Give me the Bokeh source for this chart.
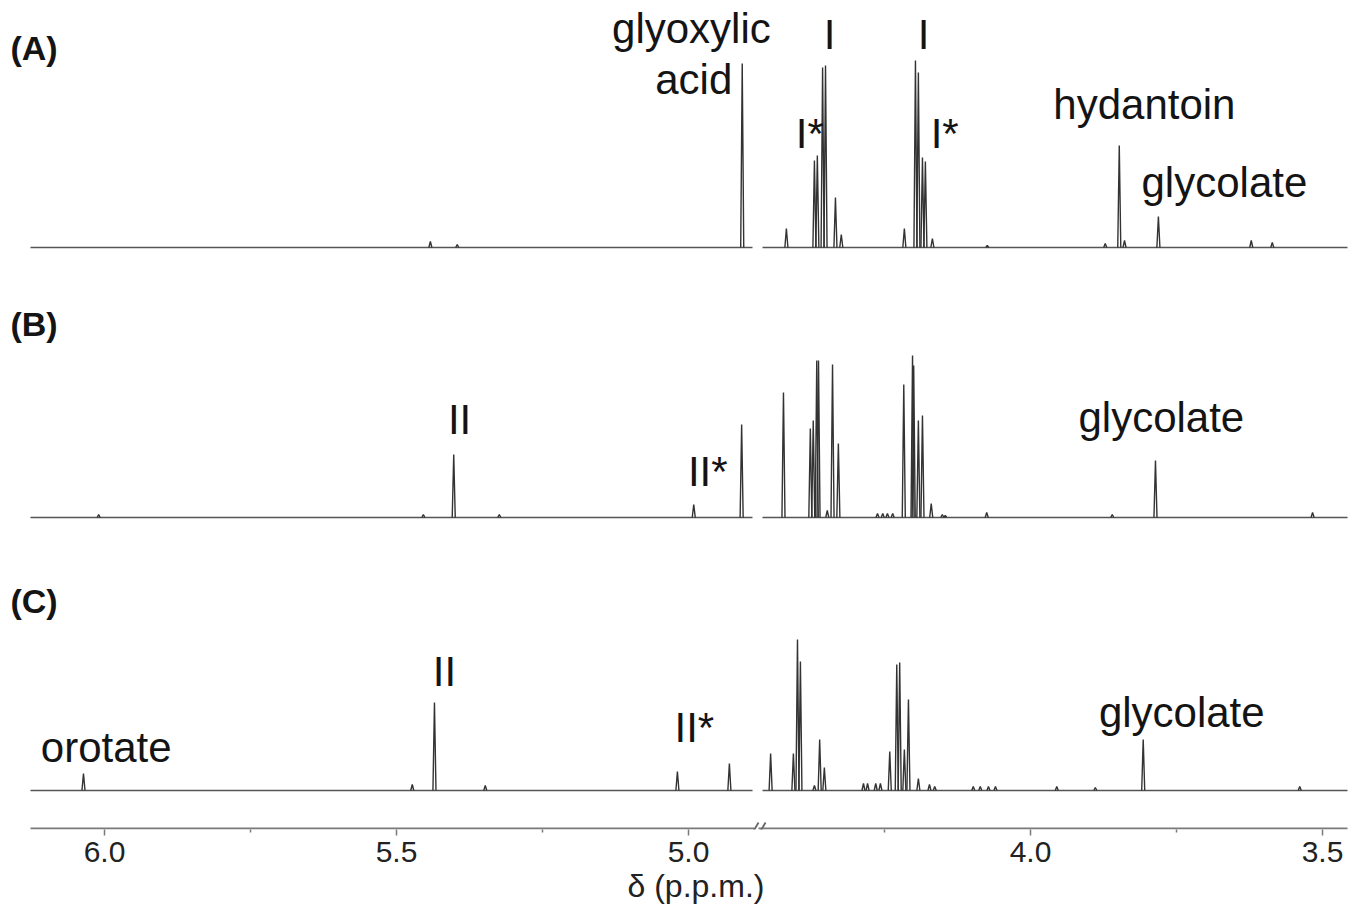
from bokeh.plotting import figure
from bokeh.models import Range1d, FixedTicker, CustomJSTickFormatter, Title
from bokeh.core.properties import value
from bokeh.embed import file_html
from bokeh.resources import INLINE

# ---------------- data (chemical shift in p.p.m., relative intensity) ----------------
a_ppm = [5.442, 5.396, 4.908,
         4.418, 4.370, 4.365, 4.356, 4.351, 4.334, 4.324,
         4.216, 4.197, 4.192, 4.185, 4.180, 4.168, 4.074,
         3.872, 3.848, 3.839, 3.781, 3.622, 3.586]
a_int = [0.06, 0.03, 1.84,
         0.19, 0.87, 0.92, 1.80, 1.82, 0.50, 0.13,
         0.19, 1.87, 1.75, 0.90, 0.86, 0.09, 0.02,
         0.04, 1.02, 0.07, 0.31, 0.07, 0.05]

b_ppm = [6.010, 5.454, 5.402, 5.324, 4.991, 4.909,
         4.423, 4.377, 4.372, 4.366, 4.363, 4.348, 4.339, 4.329,
         4.262, 4.253, 4.245, 4.236,
         4.217, 4.202, 4.200, 4.192, 4.185, 4.170, 4.151, 4.146, 4.075,
         3.860, 3.786, 3.517]
b_int = [0.03, 0.03, 0.63, 0.03, 0.13, 0.93,
         1.25, 0.89, 0.97, 1.57, 1.57, 0.07, 1.53, 0.74,
         0.04, 0.04, 0.04, 0.04,
         1.33, 1.62, 1.52, 0.97, 1.02, 0.14, 0.03, 0.02, 0.05,
         0.03, 0.57, 0.05]

c_ppm = [6.036, 5.473, 5.435, 5.348, 5.019, 4.930,
         4.445, 4.406, 4.399, 4.394, 4.370, 4.361, 4.353,
         4.286, 4.279, 4.265, 4.257,
         4.241, 4.229, 4.224, 4.216, 4.209, 4.192, 4.173, 4.164,
         4.098, 4.086, 4.072, 4.060,
         3.955, 3.889, 3.807, 3.539]
c_int = [0.17, 0.06, 0.88, 0.05, 0.19, 0.27,
         0.37, 0.37, 1.51, 1.29, 0.05, 0.51, 0.23,
         0.07, 0.07, 0.07, 0.07,
         0.39, 1.26, 1.28, 0.41, 0.91, 0.12, 0.06, 0.04,
         0.04, 0.04, 0.04, 0.04,
         0.04, 0.03, 0.51, 0.04]

panel_names = ["(A)", "(B)", "(C)"]

a_labels = ["glyoxylic", "acid", "I", "I", "I*", "I*", "hydantoin", "glycolate"]
b_labels = ["II", "II*", "glycolate"]
c_labels = ["orotate", "II", "II*", "glycolate"]

tick_major = [6.0, 5.5, 5.0, 4.0, 3.5]
tick_minor = [5.75, 5.25, 4.25, 3.75]

x_title = "δ (p.p.m.)"

# ---------------- layout constants ----------------
LEFT_END = 4.88185      # last shift shown left of the axis break
RIGHT_START = 4.46747   # first shift shown right of the axis break
SHIFT = LEFT_END - RIGHT_START


def disp(q):
    """map a chemical shift to the continuous (break-removed) axis coordinate"""
    return q if q > 4.6 else q + SHIFT


OFFSETS = [5.43, 2.73, 0.0]
HALF_W = 0.0026
LINE_COL = "#333333"
BASE_COL = "#555555"
TXT_COL = "#141414"
FONT = "Liberation Sans"
LIFT = 0.15

p = figure(frame_width=1350, frame_height=829, output_backend="svg",
           toolbar_location=None, y_axis_type=None,
           x_range=Range1d(6.17808, 3.86644), y_range=Range1d(-0.39, 7.90),
           min_border_left=0, min_border_right=0, min_border_top=0,
           min_border_bottom=0)
p.outline_line_color = None
p.xgrid.visible = False
p.ygrid.visible = False
p.background_fill_color = "white"
p.border_fill_color = "white"

traces = [(a_ppm, a_int), (b_ppm, b_int), (c_ppm, c_int)]
for (ppms, ints), off in zip(traces, OFFSETS):
    # baseline (left and right of the break)
    p.segment(x0=[disp(6.1267), disp(4.4589)], y0=[off, off],
              x1=[disp(4.8904), disp(3.4572)], y1=[off, off],
              line_color=BASE_COL, line_width=1.5)
    xs = [[disp(q) + HALF_W, disp(q), disp(q) - HALF_W] for q in ppms]
    ys = [[off, off + h, off] for h in ints]
    p.multi_line(xs, ys, line_color=LINE_COL, line_width=1.4)

# annotations
ann = [
    (a_labels, [4.995, 4.991, 4.344, 4.183, 4.378, 4.147, 3.805, 3.668],
     [2.04, 1.53, 1.98, 1.98, 0.99, 0.99, 1.28, 0.50], OFFSETS[0]),
    (b_labels, [5.392, 4.967, 3.776], [0.83, 0.31, 0.85], OFFSETS[1]),
    (c_labels, [5.997, 5.418, 4.990, 3.741], [0.28, 1.04, 0.48, 0.63], OFFSETS[2]),
]
for texts, xq, yr, off in ann:
    p.text(x=[disp(q) for q in xq], y=[off + r + LIFT for r in yr], text=texts,
           text_font=value(FONT), text_font_size="42px", text_color=TXT_COL,
           text_align="center", text_baseline="alphabetic")

p.text(x=[6.161] * 3, y=[7.28 + LIFT, 4.52 + LIFT, 1.75 + LIFT], text=panel_names,
       text_font=value(FONT), text_font_size="34px", text_font_style="bold",
       text_color=TXT_COL, text_align="left", text_baseline="alphabetic")

# axis line with break marks
AX_Y = -0.38
AX_COL = "#7a7a7a"
p.segment(x0=[disp(6.1267), disp(4.4658)], y0=[AX_Y, AX_Y],
          x1=[disp(4.8870), disp(3.4572)], y1=[AX_Y, AX_Y],
          line_color=AX_COL, line_width=2)
p.segment(x0=[disp(4.8921), disp(4.8801)], y0=[AX_Y - 0.06, AX_Y - 0.06],
          x1=[disp(4.8801), disp(4.8681)], y1=[AX_Y + 0.06, AX_Y + 0.06],
          line_color="#666666", line_width=1.8)

ax = p.xaxis[0]
ax.ticker = FixedTicker(ticks=[disp(t) for t in tick_major],
                        minor_ticks=[disp(t) for t in tick_minor])
ax.formatter = CustomJSTickFormatter(args=dict(brk=LEFT_END, s=SHIFT), code="""
    const v = tick < brk ? tick - s : tick;
    return v.toFixed(1);
""")
ax.axis_line_color = None
ax.major_tick_in = 0
ax.major_tick_out = 6
ax.minor_tick_in = 0
ax.minor_tick_out = 3
ax.major_tick_line_color = AX_COL
ax.minor_tick_line_color = AX_COL
ax.major_tick_line_width = 1.5
ax.minor_tick_line_width = 1.5
ax.major_label_text_font = FONT
ax.major_label_text_font_size = "30px"
ax.major_label_text_color = "#222222"
ax.major_label_standoff = 6

# axis title, offset so that it sits centred under the break region as in the original
p.add_layout(Title(text=x_title, align="left", offset=627, standoff=2,
                   text_font=FONT, text_font_size="32px", text_font_style="normal",
                   text_color="#222222"), "below")

open("out.html", "w").write(file_html(p, INLINE))
